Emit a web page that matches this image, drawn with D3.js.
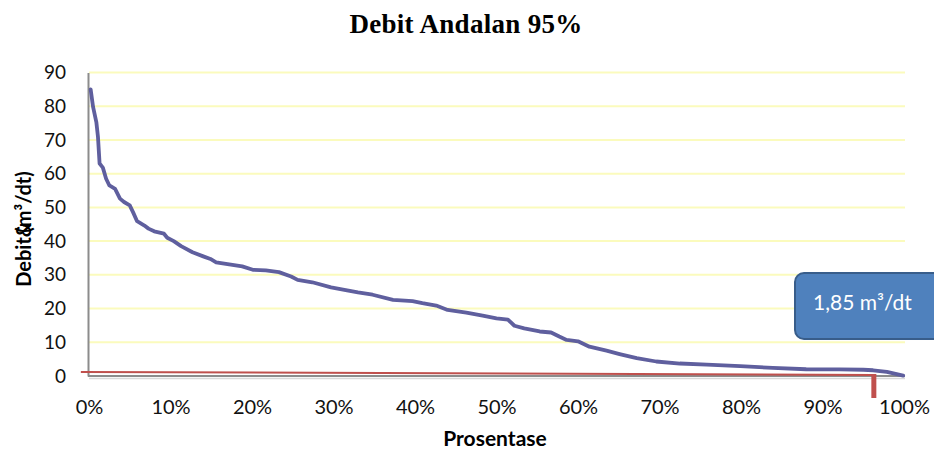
<!DOCTYPE html>
<html>
<head>
<meta charset="utf-8">
<script src="https://cdn.jsdelivr.net/npm/d3@7"></script>
<style>
  html, body { margin: 0; padding: 0; background: #fff; }
  svg { display: block; }
</style>
</head>
<body>
<svg id="chart" width="934" height="451"></svg>
<script>
// Flow duration curve: exceedance percentage vs discharge
const exceedancePct = [0.2, 0.5, 0.9, 1.1, 1.3, 1.7, 2.1, 2.5, 3.2, 3.8, 4.3, 5.0, 5.4, 5.9, 6.8, 7.3, 8.0, 9.2, 9.6, 10.4,
  11.3, 12.7, 14.1, 14.9, 15.6, 17.2, 18.8, 20.1, 21.7, 23.3, 24.8, 25.6, 27.4, 29.7, 31.5, 33.0, 34.8, 37.3, 39.7, 40.9,
  42.6, 44.0, 46.3, 48.3, 50.0, 51.4, 52.2, 53.4, 55.3, 56.7, 57.7, 58.6, 60.0, 61.4, 63.5, 65.1, 67.2, 69.6, 72.5, 75.8,
  79.9, 83.9, 88.0, 92.1, 95.0, 96.2, 97.9, 99.9];
const discharge = [85, 79.8, 75.3, 70.9, 63, 61.8, 58.5, 56.5, 55.5, 52.6, 51.6, 50.6, 48.6, 45.9, 44.6, 43.7, 42.9, 42.2, 41, 40,
  38.5, 36.7, 35.4, 34.7, 33.7, 33.1, 32.5, 31.5, 31.3, 30.8, 29.5, 28.5, 27.8, 26.3, 25.5, 24.8, 24.1, 22.6, 22.2, 21.6,
  20.9, 19.6, 18.8, 17.9, 17.1, 16.7, 14.9, 14.1, 13.2, 12.9, 11.7, 10.7, 10.3, 8.7, 7.5, 6.5, 5.3, 4.3, 3.7, 3.4,
  2.9, 2.4, 2.0, 1.95, 1.85, 1.7, 1.2, 0.1];

const yTicks = [0, 10, 20, 30, 40, 50, 60, 70, 80, 90];
const xTicks = [0, 10, 20, 30, 40, 50, 60, 70, 80, 90, 100];

// Dependable flow annotation
const dependableFlow = 1.85;          // m³/dt
const markerPct = 96.3;               // where the marker drops to the axis
const markerLine = [[-1, 1.2], [96.3, 0.3]]; // hand-drawn guide line (percent, value)

const svg = d3.select("#chart");
const x = d3.scaleLinear().domain([0, 100]).range([89, 904]);
const y = d3.scaleLinear().domain([0, 90]).range([376, 72.5]);

// Title
svg.append("text")
  .attr("x", 466).attr("y", 33)
  .attr("text-anchor", "middle")
  .style("font-family", "'Liberation Serif', 'Times New Roman', serif")
  .style("font-weight", "bold").style("font-size", "27px")
  .style("letter-spacing", "0.3px")
  .text("Debit Andalan 95%");

// Horizontal gridlines
svg.append("g").selectAll("line")
  .data(yTicks.filter(d => d > 0))
  .join("line")
  .attr("x1", x(0)).attr("x2", 905)
  .attr("y1", d => y(d)).attr("y2", d => y(d))
  .attr("stroke", "#fbfbbd").attr("stroke-width", 2);

// Y axis
const yAxis = svg.append("g")
  .attr("transform", `translate(${x(0) - 1},0)`)
  .call(d3.axisLeft(y).tickValues(yTicks).tickSize(0).tickPadding(22));
yAxis.select(".domain").attr("stroke", "#8c8c8c").attr("stroke-width", 2);
yAxis.selectAll("text")
  .style("font-family", "Lato, 'Open Sans', sans-serif")
  .style("font-size", "19px").attr("fill", "#111");

// X axis
const xAxis = svg.append("g")
  .attr("transform", `translate(0,${y(0)})`)
  .call(d3.axisBottom(x).tickValues(xTicks).tickSize(0).tickPadding(24).tickFormat(d => d + "%"));
xAxis.select(".domain").attr("stroke", "#8c8c8c").attr("stroke-width", 2)
  .attr("d", `M${x(0) - 1},0H905`);
xAxis.selectAll("text")
  .style("font-family", "Lato, 'Open Sans', sans-serif")
  .style("font-size", "20px").attr("fill", "#111");
// soft shadow under the axis
svg.append("line")
  .attr("x1", x(0)).attr("x2", 905)
  .attr("y1", y(0) + 2.5).attr("y2", y(0) + 2.5)
  .attr("stroke", "#d9d9d9").attr("stroke-width", 1.5);

// Axis titles
svg.append("text")
  .attr("x", 495).attr("y", 446)
  .attr("text-anchor", "middle")
  .style("font-family", "Lato, 'Open Sans', sans-serif")
  .style("font-weight", "bold").style("font-size", "21px")
  .text("Prosentase");

const yTitle = svg.append("text")
  .attr("transform", "translate(31,229) rotate(-90)")
  .attr("text-anchor", "middle")
  .style("font-family", "Lato, 'Open Sans', sans-serif")
  .style("font-weight", "bold").style("font-size", "20px");
yTitle.append("tspan").text("Debit&");
yTitle.append("tspan").attr("dx", -10).text("(m³/dt)");

// Guide line to the 95% point
svg.append("line")
  .attr("x1", x(markerLine[0][0])).attr("y1", y(markerLine[0][1]))
  .attr("x2", x(markerLine[1][0])).attr("y2", y(markerLine[1][1]))
  .attr("stroke", "#c0504d").attr("stroke-width", 2);
svg.append("line")
  .attr("x1", x(markerPct)).attr("x2", x(markerPct))
  .attr("y1", y(markerLine[1][1]) - 1).attr("y2", 398)
  .attr("stroke", "#c0504d").attr("stroke-width", 5);

// Duration curve
const pts = exceedancePct.map((p, i) => [p, discharge[i]]);
svg.append("path")
  .datum(pts)
  .attr("fill", "none")
  .attr("stroke", "#5f5f9e")
  .attr("stroke-width", 3.8)
  .attr("stroke-linejoin", "round")
  .attr("stroke-linecap", "round")
  .attr("d", d3.line().x(d => x(d[0])).y(d => y(d[1])));

// Callout with the dependable flow
const callout = svg.append("g");
callout.append("rect")
  .attr("x", 795).attr("y", 273)
  .attr("width", 170).attr("height", 66)
  .attr("rx", 9)
  .attr("fill", "#4f81bd")
  .attr("stroke", "#385d8a").attr("stroke-width", 2);
callout.append("text")
  .attr("x", 813).attr("y", 310)
  .attr("fill", "#fff")
  .style("font-family", "Lato, 'Open Sans', sans-serif")
  .style("font-size", "21px")
  .text(d3.format(".2f")(dependableFlow).replace(".", ",") + " m³/dt");
</script>
</body>
</html>
